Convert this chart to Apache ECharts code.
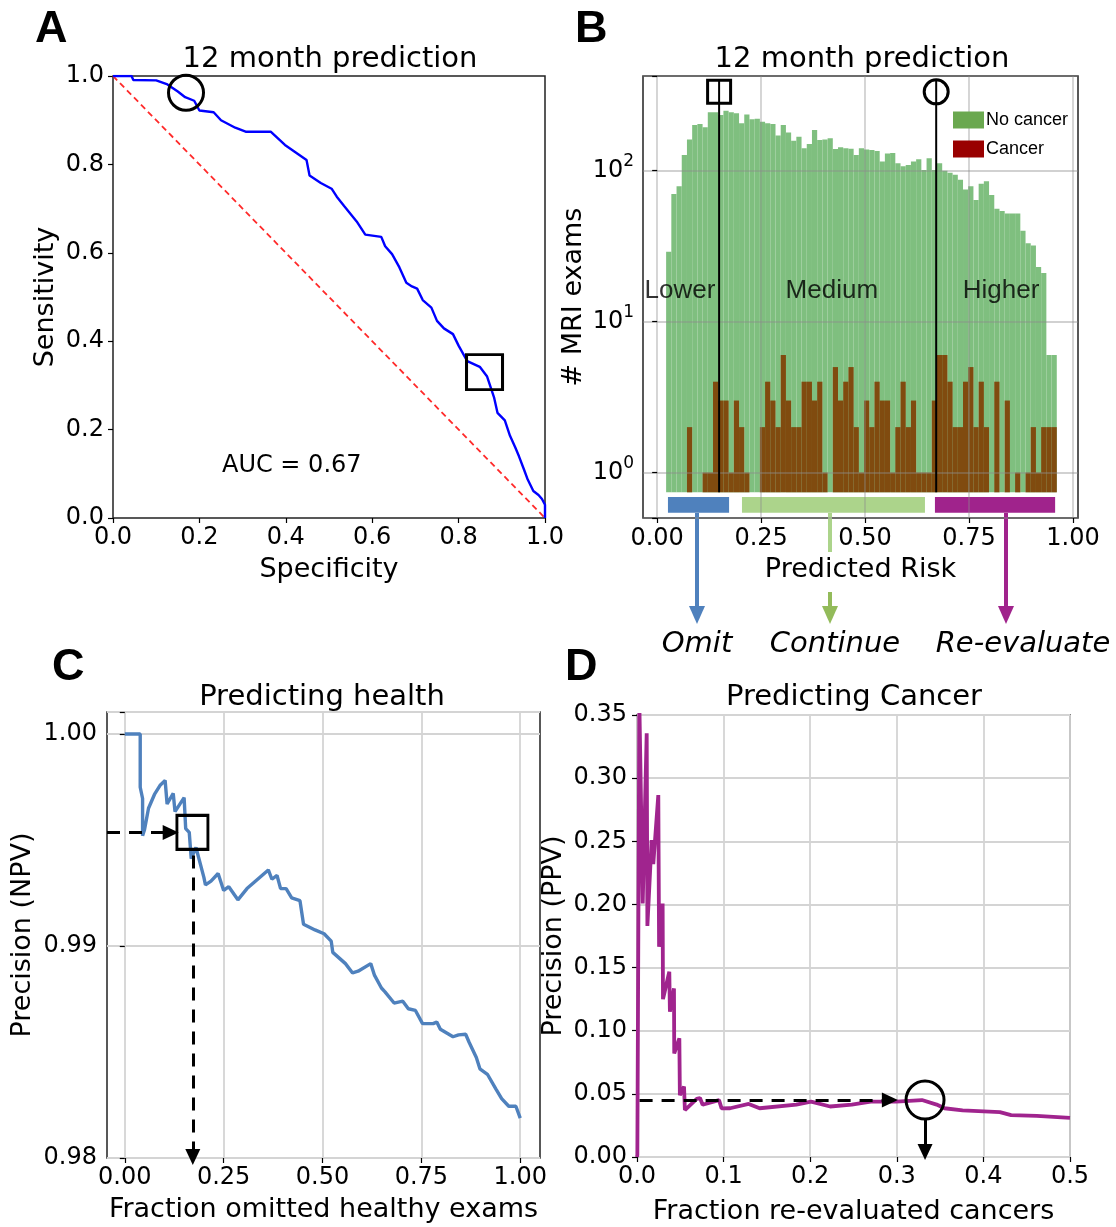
<!DOCTYPE html>
<html>
<head>
<meta charset="utf-8">
<script src="https://cdn.jsdelivr.net/npm/echarts@6/dist/echarts.min.js"></script>
<style>
  html, body { margin: 0; background: #fff; }
  #chart { width: 1116px; height: 1227px; }
</style>
</head>
<body>
<div id="chart"></div>
<script>
// ---- panel A : ROC curve
const rocSpec = [0,0.043,0.047,0.10,0.126,0.150,0.167,0.188,0.20,0.233,0.25,0.283,0.307,0.365,0.398,0.423,0.448,0.455,0.481,0.506,0.518,0.535,0.564,0.584,0.621,0.63,0.646,0.663,0.679,0.692,0.704,0.717,0.737,0.75,0.766,0.787,0.80,0.82,0.849,0.866,0.882,0.89,0.907,0.919,0.931,0.94,0.952,0.96,0.973,0.985,0.993,1.0,1.0];
const rocSens = [1,1.0,0.991,0.99,0.981,0.965,0.952,0.944,0.922,0.918,0.90,0.883,0.874,0.874,0.844,0.827,0.81,0.775,0.758,0.745,0.727,0.706,0.671,0.641,0.636,0.615,0.597,0.567,0.532,0.524,0.519,0.493,0.476,0.446,0.429,0.416,0.39,0.355,0.342,0.32,0.273,0.238,0.221,0.186,0.16,0.139,0.108,0.087,0.061,0.052,0.043,0.03,0.0];
const chanceLine = [[0, 1], [1, 0]];
const rocCircle = [0.169, 0.962];
const rocSquare = [0.86, 0.33];

// ---- panel B : histogram of predicted risk (75 bins)
const binStart = 0.0216;
const binWidth = 0.012525;
const noCancer = [29,70,79,127,161,201,204,194,244,244,234,250,244,
  240,206,236,219,221,211,206,204,171,201,179,158,168,141,150,186,160,161,164,139,143,141,140,127,
  141,138,137,135,115,130,131,112,107,109,115,119,101,121,101,112,100,97,94,87,75,79,64,82,85,69,56,54,52,52,52,40,33,32,23,21,6,6];
const cancer = [0,0,0,0,2,0,0,1,1,4,3,3,1,3,2,1,0,0,2,4,3,2,6,3,2,2,4,4,3,4,1,0,5,3,4,5,2,
  1,3,2,4,3,3,1,2,4,2,3,1,1,1,3,6,6,4,2,2,4,5,2,4,2,0,4,0,3,0,1,0,1,2,1,2,2,2];
const histBase = 0.74;
const thresholds = [0.149, 0.671];
const thresholdTop = 393;
const thresholdMark = 333;
const riskGroups = ['Lower', 'Medium', 'Higher'];
const riskGroupPos = [[0.055, 16], [0.42, 16], [0.827, 16]];
const actionRanges = [[0.026, 0.173], [0.204, 0.644], [0.668, 0.957]];
const actionBand = [0.541, 0.69];
const actionColors = ['#4f81bd', '#acd48b', '#a0238c'];

// ---- panel C : NPV
const npvX = [0,0.039,0.039,0.045,0.045,0.05,0.06,0.075,0.09,0.102,0.107,0.1225,0.127,0.15,0.154,0.163,0.168,0.18,0.20,0.204,0.218,0.236,0.25,0.263,0.286,0.309,0.363,0.372,0.385,0.394,0.408,0.422,0.443,0.452,0.456,0.481,0.504,0.522,0.526,0.558,0.576,0.59,0.622,0.631,0.649,0.658,0.681,0.703,0.717,0.735,0.753,0.78,0.789,0.798,0.83,0.844,0.862,0.871,0.889,0.898,0.917,0.939,0.953,0.971,0.989,1.0];
const npvY = [1.0,1.0,0.99749,0.99696,0.9952,0.9955,0.9965,0.99715,0.9976,0.99781,0.9967,0.9972,0.99634,0.997,0.99554,0.99536,0.99412,0.99465,0.99324,0.99288,0.99306,0.99342,0.99262,0.9928,0.99218,0.99271,0.99359,0.99315,0.99333,0.99271,0.99271,0.99227,0.99214,0.99103,0.99094,0.99076,0.99058,0.99023,0.9897,0.98917,0.98873,0.98881,0.98917,0.98864,0.98802,0.98784,0.98731,0.9874,0.98704,0.98696,0.98634,0.98634,0.98642,0.98607,0.98572,0.98581,0.98584,0.98545,0.98474,0.98421,0.98395,0.98324,0.9828,0.98244,0.98244,0.98188];
const npvPoint = [0.171, 0.99536];
const npvArrowH = [[-0.045, 0.99536], [0.116, 0.99536]];
const npvArrowV = [[0.172, 0.99427], [0.172, 0.98005]];

// ---- panel D : PPV
const ppvX = [0,0.0004,0.0027,0.0066,0.0112,0.012,0.0169,0.0188,0.0246,0.0255,0.0296,0.030,0.0373,0.038,0.0427,0.043,0.0489,0.0495,0.0543,0.0553,0.069,0.0727,0.0758,0.0947,0.0958,0.0977,0.1075,0.129,0.1416,0.184,0.201,0.223,0.248,0.27,0.2995,0.329,0.346,0.355,0.376,0.419,0.432,0.4616,0.5];
const ppvY = [0,0.0016,0.36,0.2008,0.3355,0.183,0.251,0.232,0.2866,0.1665,0.2008,0.125,0.1467,0.115,0.1335,0.082,0.094,0.049,0.0557,0.0372,0.046,0.0467,0.0414,0.045,0.0451,0.0385,0.0386,0.042,0.0386,0.0415,0.0439,0.04,0.0415,0.0439,0.0439,0.0451,0.0415,0.0386,0.037,0.0356,0.0332,0.0326,0.031];
const ppvPoint = [0.3326, 0.0451];
const ppvArrowH = [[0.003, 0.0451], [0.292, 0.0451]];
const ppvArrowV = [[0.3326, 0.0293], [0.3326, 0.004]];

const FONT = 'DejaVu Sans';
const ARIAL = 'Liberation Sans';
const zip = (a, b) => a.map((v, i) => [v, b[i]]);

const chart = echarts.init(document.getElementById('chart'));

function histData(counts) {
    const out = [];
    counts.forEach((c, i) => {
        if (c > 0) out.push([binStart + i * binWidth, binStart + (i + 1) * binWidth, c]);
    });
    return out;
}

function barItem(params, api) {
    const p0 = api.coord([api.value(0), api.value(2)]);
    const p1 = api.coord([api.value(1), histBase]);
    return {
        type: 'rect',
        shape: { x: p0[0], y: p0[1], width: p1[0] - p0[0], height: p1[1] - p0[1] },
        style: api.style()
    };
}

function stripItem(params, api) {
    const p0 = api.coord([api.value(0), actionBand[1]]);
    const p1 = api.coord([api.value(1), actionBand[0]]);
    return {
        type: 'rect',
        shape: { x: p0[0], y: p0[1], width: p1[0] - p0[0], height: p1[1] - p0[1] },
        style: { fill: actionColors[params.dataIndex] }
    };
}

const tickStyle = { show: true, length: 5, lineStyle: { color: '#000', width: 1.2 } };
const labelStyle = { fontFamily: FONT, fontSize: 24, color: '#000' };
const nameStyle = { fontFamily: FONT, fontSize: 27, color: '#000' };
const gridLine = { show: true, lineStyle: { color: '#d4d4d4', width: 1.8 } };
const frame = { show: true, borderColor: '#222', borderWidth: 1.5, outerBoundsMode: 'none' };
const ring = { color: 'rgba(0,0,0,0)', borderColor: '#000', borderWidth: 3, opacity: 1 };

const fmt = d => v => v.toFixed(d);

const option = {
    backgroundColor: '#fff',
    animation: false,
    grid: [
        Object.assign({ left: 113, top: 76, width: 432, height: 442 }, frame),
        Object.assign({ left: 643, top: 76, width: 435, height: 442 }, frame),
        Object.assign({ left: 107, top: 712, width: 433, height: 446 }, frame),
        Object.assign({ left: 637, top: 715, width: 433, height: 442 }, frame)
    ],
    legend: {
        orient: 'vertical', left: 948, top: 106, itemWidth: 31, itemHeight: 17, itemGap: 11,
        icon: 'rect',
        textStyle: { fontFamily: ARIAL, fontSize: 18, color: '#000', padding: [0, 0, 0, -3] },
        data: [
            { name: 'No cancer', itemStyle: { color: '#6aa84f' } },
            { name: 'Cancer', itemStyle: { color: '#990000' } }
        ]
    },
    xAxis: [
        {
            gridIndex: 0, type: 'value', min: 0, max: 1, interval: 0.2,
            axisLine: { show: false }, axisTick: tickStyle, splitLine: { show: false },
            axisLabel: Object.assign({ margin: 8, formatter: fmt(1) }, labelStyle),
            name: 'Specificity', nameLocation: 'middle', nameGap: 38, nameTextStyle: nameStyle
        },
        {
            gridIndex: 1, type: 'value', min: -0.034, max: 1.012, z: 3,
            axisLine: { show: false },
            axisTick: Object.assign({ customValues: [0, 0.25, 0.5, 0.75, 1] }, tickStyle),
            splitLine: { show: true, lineStyle: { color: 'rgba(140,140,140,0.4)', width: 1.8 } },
            axisLabel: Object.assign({ margin: 9, formatter: fmt(2), customValues: [0, 0.25, 0.5, 0.75, 1] }, labelStyle),
            name: 'Predicted Risk', nameLocation: 'middle', nameGap: 38, nameTextStyle: nameStyle
        },
        {
            gridIndex: 2, type: 'value', min: -0.045, max: 1.05,
            axisLine: { show: false },
            axisTick: Object.assign({ customValues: [0, 0.25, 0.5, 0.75, 1] }, tickStyle),
            splitLine: gridLine,
            axisLabel: Object.assign({ margin: 8, formatter: fmt(2), customValues: [0, 0.25, 0.5, 0.75, 1] }, labelStyle),
            name: 'Fraction omitted healthy exams', nameLocation: 'middle', nameGap: 38, nameTextStyle: nameStyle
        },
        {
            gridIndex: 3, type: 'value', min: 0, max: 0.5, interval: 0.1,
            axisLine: { show: false }, axisTick: tickStyle, splitLine: gridLine,
            axisLabel: Object.assign({ margin: 8, formatter: fmt(1) }, labelStyle),
            name: 'Fraction re-evaluated cancers', nameLocation: 'middle', nameGap: 41, nameTextStyle: nameStyle
        }
    ],
    yAxis: [
        {
            gridIndex: 0, type: 'value', min: 0, max: 1, interval: 0.2,
            axisLine: { show: false }, axisTick: tickStyle, splitLine: { show: false },
            axisLabel: Object.assign({ margin: 9, formatter: fmt(1) }, labelStyle),
            name: 'Sensitivity', nameLocation: 'middle', nameGap: 54, nameTextStyle: nameStyle
        },
        {
            gridIndex: 1, type: 'log', logBase: 10, min: 0.5, max: 424, z: 3,
            axisLine: { show: false }, axisTick: tickStyle,
            splitLine: { show: true, lineStyle: { color: 'rgba(140,140,140,0.4)', width: 1.8 } },
            axisLabel: {
                margin: 9,
                formatter: function (v) {
                    const e = Math.log10(v);
                    if (Math.abs(e - Math.round(e)) > 1e-6) return '';
                    return '{b|10}{s|' + Math.round(e) + '}';
                },
                rich: {
                    b: { fontFamily: FONT, fontSize: 24, color: '#000' },
                    s: { fontFamily: FONT, fontSize: 17, color: '#000', padding: [0, 0, 18, 0] }
                }
            },
            name: '# MRI exams', nameLocation: 'middle', nameGap: 56, nameTextStyle: nameStyle
        },
        {
            gridIndex: 2, type: 'value', min: 0.98, max: 1.00104, interval: 0.01,
            axisLine: { show: false }, axisTick: tickStyle, splitLine: gridLine,
            axisLabel: Object.assign({
                margin: 10,
                formatter: v => Math.abs(v * 100 - Math.round(v * 100)) > 1e-6 ? '' : v.toFixed(2)
            }, labelStyle),
            name: 'Precision (NPV)', nameLocation: 'middle', nameGap: 71, nameTextStyle: nameStyle
        },
        {
            gridIndex: 3, type: 'value', min: 0, max: 0.35, interval: 0.05,
            axisLine: { show: false }, axisTick: tickStyle, splitLine: gridLine,
            axisLabel: Object.assign({ margin: 10, formatter: fmt(2) }, labelStyle),
            name: 'Precision (PPV)', nameLocation: 'middle', nameGap: 70, nameTextStyle: nameStyle
        }
    ],
    series: [
        // A
        {
            type: 'line', xAxisIndex: 0, yAxisIndex: 0, data: chanceLine, showSymbol: false, z: 2,
            lineStyle: { color: '#ff2a2a', width: 1.8, type: [6, 4] }
        },
        {
            type: 'line', xAxisIndex: 0, yAxisIndex: 0, data: zip(rocSpec, rocSens), showSymbol: false, z: 3,
            lineStyle: { color: '#0000ff', width: 2.4 }
        },
        {
            type: 'scatter', xAxisIndex: 0, yAxisIndex: 0, z: 4, silent: true, itemStyle: ring,
            data: [
                { value: rocCircle, symbol: 'circle', symbolSize: 35 },
                { value: rocSquare, symbol: 'rect', symbolSize: [36, 35] }
            ]
        },
        // B
        {
            type: 'custom', name: 'No cancer', xAxisIndex: 1, yAxisIndex: 1, renderItem: barItem,
            encode: { x: [0, 1], y: 2 }, data: histData(noCancer), itemStyle: { color: '#7fbf7f' }, z: 1
        },
        {
            type: 'custom', name: 'Cancer', xAxisIndex: 1, yAxisIndex: 1, renderItem: barItem,
            encode: { x: [0, 1], y: 2 }, data: histData(cancer), itemStyle: { color: '#804b0f' }, z: 2
        },
        {
            type: 'custom', xAxisIndex: 1, yAxisIndex: 1, renderItem: stripItem,
            encode: { x: [0, 1] }, data: actionRanges, z: 2, silent: true
        },
        {
            type: 'line', xAxisIndex: 1, yAxisIndex: 1, showSymbol: false, z: 5,
            data: [[thresholds[0], histBase], [thresholds[0], thresholdTop]],
            lineStyle: { color: '#000', width: 2 }
        },
        {
            type: 'line', xAxisIndex: 1, yAxisIndex: 1, showSymbol: false, z: 5,
            data: [[thresholds[1], histBase], [thresholds[1], thresholdTop]],
            lineStyle: { color: '#000', width: 2 }
        },
        {
            type: 'scatter', xAxisIndex: 1, yAxisIndex: 1, z: 6, silent: true, itemStyle: ring,
            data: [
                { value: [thresholds[0], thresholdMark], symbol: 'rect', symbolSize: 23 },
                { value: [thresholds[1], thresholdMark], symbol: 'circle', symbolSize: 24 }
            ]
        },
        {
            type: 'scatter', xAxisIndex: 1, yAxisIndex: 1, z: 6, silent: true, symbolSize: 1,
            itemStyle: { color: 'rgba(0,0,0,0)' },
            label: { show: true, position: 'inside', formatter: '{b}', fontFamily: ARIAL, fontSize: 26, color: '#000' },
            data: riskGroups.map((n, i) => ({ name: n, value: riskGroupPos[i] }))
        },
        // C
        {
            type: 'line', xAxisIndex: 2, yAxisIndex: 2, data: zip(npvX, npvY), showSymbol: false, z: 3,
            lineStyle: { color: '#4f81bd', width: 3.4 },
            markLine: {
                silent: true, symbol: ['none', 'triangle'], symbolSize: [15, 16], label: { show: false },
                lineStyle: { color: '#000', width: 3, type: [13, 9] },
                data: [
                    [{ coord: npvArrowH[0] }, { coord: npvArrowH[1] }],
                    [{ coord: npvArrowV[0] }, { coord: npvArrowV[1] }]
                ]
            }
        },
        {
            type: 'scatter', xAxisIndex: 2, yAxisIndex: 2, z: 4, silent: true, itemStyle: ring,
            data: [{ value: npvPoint, symbol: 'rect', symbolSize: [31, 34] }]
        },
        // D
        {
            type: 'line', xAxisIndex: 3, yAxisIndex: 3, data: zip(ppvX, ppvY), showSymbol: false, z: 3,
            lineStyle: { color: '#a0248e', width: 3.8 },
            markLine: {
                silent: true, symbol: ['none', 'triangle'], symbolSize: [15, 16], label: { show: false },
                lineStyle: { color: '#000', width: 3, type: [13, 9] },
                data: [
                    [{ coord: ppvArrowH[0] }, { coord: ppvArrowH[1] }],
                    [{ coord: ppvArrowV[0], lineStyle: { type: 'solid' } }, { coord: ppvArrowV[1] }]
                ]
            }
        },
        {
            type: 'scatter', xAxisIndex: 3, yAxisIndex: 3, z: 4, silent: true, itemStyle: ring,
            data: [{ value: ppvPoint, symbol: 'circle', symbolSize: 38 }]
        }
    ],
    graphic: [
        // panel letters
        { type: 'text', x: 35, y: 30, style: { text: 'A', font: 'bold 45px "Liberation Sans"', fill: '#000', textVerticalAlign: 'middle' } },
        { type: 'text', x: 575, y: 30, style: { text: 'B', font: 'bold 45px "Liberation Sans"', fill: '#000', textVerticalAlign: 'middle' } },
        { type: 'text', x: 52, y: 668, style: { text: 'C', font: 'bold 45px "Liberation Sans"', fill: '#000', textVerticalAlign: 'middle' } },
        { type: 'text', x: 565, y: 668, style: { text: 'D', font: 'bold 45px "Liberation Sans"', fill: '#000', textVerticalAlign: 'middle' } },
        // titles
        { type: 'text', x: 330, y: 59, style: { text: '12 month prediction', font: '29px "DejaVu Sans"', fill: '#000', textAlign: 'center', textVerticalAlign: 'middle' } },
        { type: 'text', x: 862, y: 59, style: { text: '12 month prediction', font: '29px "DejaVu Sans"', fill: '#000', textAlign: 'center', textVerticalAlign: 'middle' } },
        { type: 'text', x: 322, y: 697, style: { text: 'Predicting health', font: '29px "DejaVu Sans"', fill: '#000', textAlign: 'center', textVerticalAlign: 'middle' } },
        { type: 'text', x: 854, y: 697, style: { text: 'Predicting Cancer', font: '29px "DejaVu Sans"', fill: '#000', textAlign: 'center', textVerticalAlign: 'middle' } },
        { type: 'text', x: 222, y: 466, style: { text: 'AUC = 0.67', font: '24px "DejaVu Sans"', fill: '#000', textVerticalAlign: 'middle' } },
        // action arrows under panel B
        { type: 'line', shape: { x1: 697, y1: 513, x2: 697, y2: 609 }, style: { stroke: '#4f81bd', lineWidth: 4 } },
        { type: 'polygon', shape: { points: [[689, 606], [705, 606], [697, 624]] }, style: { fill: '#4f81bd' } },
        { type: 'line', shape: { x1: 830, y1: 513, x2: 830, y2: 552 }, style: { stroke: '#acd48b', lineWidth: 4 } },
        { type: 'line', shape: { x1: 830, y1: 592, x2: 830, y2: 609 }, style: { stroke: '#93bb5a', lineWidth: 4 } },
        { type: 'polygon', shape: { points: [[822, 606], [838, 606], [830, 624]] }, style: { fill: '#93bb5a' } },
        { type: 'line', shape: { x1: 1006, y1: 513, x2: 1006, y2: 609 }, style: { stroke: '#a0238c', lineWidth: 4 } },
        { type: 'polygon', shape: { points: [[998, 606], [1014, 606], [1006, 624]] }, style: { fill: '#a0238c' } },
        { type: 'text', x: 697, y: 644, style: { text: 'Omit', font: 'italic 29px "DejaVu Sans"', fill: '#000', textAlign: 'center', textVerticalAlign: 'middle' } },
        { type: 'text', x: 835, y: 644, style: { text: 'Continue', font: 'italic 29px "DejaVu Sans"', fill: '#000', textAlign: 'center', textVerticalAlign: 'middle' } },
        { type: 'text', x: 1023, y: 644, style: { text: 'Re-evaluate', font: 'italic 29px "DejaVu Sans"', fill: '#000', textAlign: 'center', textVerticalAlign: 'middle' } }
    ]
};

chart.setOption(option);
</script>
</body>
</html>
